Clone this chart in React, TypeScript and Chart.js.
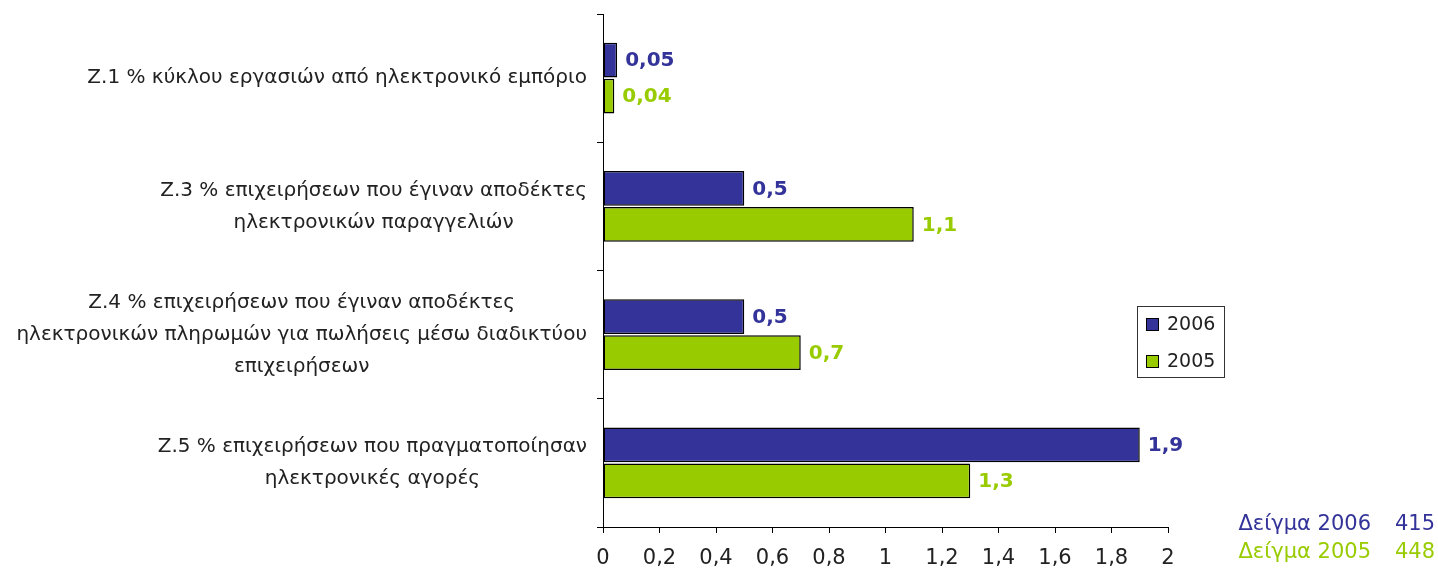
import React, { useEffect, useRef } from "react";
import { Chart, registerables } from "chart.js";

Chart.register(...registerables);

const categories: string[][] = [
  ["Z.1 % κύκλου εργασιών από ηλεκτρονικό εμπόριο"],
  ["Z.3 % επιχειρήσεων που έγιναν αποδέκτες", "ηλεκτρονικών παραγγελιών"],
  [
    "Z.4 % επιχειρήσεων που έγιναν αποδέκτες",
    "ηλεκτρονικών πληρωμών για πωλήσεις μέσω διαδικτύου",
    "επιχειρήσεων",
  ],
  ["Z.5 % επιχειρήσεων που πραγματοποίησαν", "ηλεκτρονικές αγορές"],
];
const seriesNames = ["2006", "2005"];
const values2006 = [0.05, 0.5, 0.5, 1.9];
const values2005 = [0.04, 1.1, 0.7, 1.3];
const sampleLabels = ["Δείγμα 2006", "Δείγμα 2005"];
const sampleSizes = ["415", "448"];

const BLUE = "#333399";
const GREEN = "#99CC00";
const FONT = "'DejaVu Sans', Verdana, sans-serif";

const fmt = (v: number) => String(Number(v.toFixed(2))).replace(".", ",");

const drawPlugin = {
  id: "customDraw",
  afterDraw(chart: any) {
    const ctx = chart.ctx;
    const yScale = chart.scales.y;
    ctx.save();
    // category labels: block right aligned, lines centered
    ctx.font = `20px ${FONT}`;
    ctx.fillStyle = "#222";
    ctx.textBaseline = "middle";
    ctx.textAlign = "center";
    const lineH = 32;
    categories.forEach((lines, i) => {
      const yc = yScale.getPixelForValue(i);
      const maxW = Math.max(...lines.map((l) => ctx.measureText(l).width));
      const xc = 587 - maxW / 2;
      const y0 = yc - ((lines.length - 1) * lineH) / 2;
      lines.forEach((l, j) => ctx.fillText(l, xc, y0 + j * lineH));
    });
    // value labels
    ctx.font = `bold 20px ${FONT}`;
    ctx.textAlign = "left";
    chart.data.datasets.forEach((ds: any, di: number) => {
      const meta = chart.getDatasetMeta(di);
      ctx.fillStyle = ds.backgroundColor;
      meta.data.forEach((bar: any, i: number) => {
        ctx.fillText(fmt(ds.data[i]), bar.x + 8, bar.y + 1);
      });
    });
    // legend
    const lx = 1137, ly = 306, lw = 87, lh = 71;
    ctx.strokeStyle = "#333";
    ctx.lineWidth = 1;
    ctx.strokeRect(lx + 0.5, ly + 0.5, lw, lh);
    ctx.font = `19px ${FONT}`;
    chart.data.datasets.forEach((ds: any, di: number) => {
      const cy = ly + 18 + di * 37;
      ctx.fillStyle = ds.backgroundColor;
      ctx.fillRect(lx + 9, cy - 6, 12, 12);
      ctx.strokeStyle = "#000";
      ctx.strokeRect(lx + 9.5, cy - 5.5, 12, 12);
      ctx.fillStyle = "#222";
      ctx.fillText(ds.label, lx + 30, cy + 1);
    });
    ctx.restore();
  },
};

export default function App() {
  const ref = useRef<HTMLCanvasElement>(null);
  useEffect(() => {
    if (!ref.current) return;
    const chart = new Chart(ref.current, {
      type: "bar",
      data: {
        labels: categories.map((c) => c.join(" ")),
        datasets: [
          {
            label: seriesNames[0],
            data: values2006,
            backgroundColor: BLUE,
            borderColor: "#000",
            borderWidth: 1.5,
            borderSkipped: false,
            categoryPercentage: 0.56,
            barPercentage: 0.97,
          },
          {
            label: seriesNames[1],
            data: values2005,
            backgroundColor: GREEN,
            borderColor: "#000",
            borderWidth: 1.5,
            borderSkipped: false,
            categoryPercentage: 0.56,
            barPercentage: 0.97,
          },
        ],
      },
      options: {
        indexAxis: "y",
        responsive: true,
        maintainAspectRatio: false,
        animation: false,
        layout: { padding: { top: 14, right: 270, left: 0, bottom: 0 } },
        plugins: {
          legend: { display: false },
          tooltip: { enabled: false },
        },
        scales: {
          x: {
            min: 0,
            max: 2,
            ticks: {
              stepSize: 0.2,
              color: "#222",
              padding: 13,
              font: { family: FONT, size: 21 },
              callback: (v: any) => fmt(Number(v)),
            },
            grid: {
              drawOnChartArea: false,
              drawTicks: true,
              tickLength: 6,
              color: "#000",
            },
            border: { display: true, color: "#000", width: 1 },
            afterFit: (s: any) => {
              s.height = 49;
            },
          },
          y: {
            ticks: { display: false },
            grid: {
              offset: true,
              drawOnChartArea: false,
              drawTicks: true,
              tickLength: 6,
              color: "#000",
            },
            border: { display: true, color: "#000", width: 1 },
            afterFit: (s: any) => {
              s.width = 603;
            },
          },
        },
      },
      plugins: [drawPlugin],
    } as any);
    return () => chart.destroy();
  }, []);

  return (
    <div
      style={{
        position: "absolute",
        left: 0,
        top: 0,
        width: 1438,
        height: 576,
        background: "#fff",
        fontFamily: FONT,
      }}
    >
      <canvas ref={ref} />
      {sampleLabels.map((l, i) => (
        <div
          key={l}
          style={{
            position: "absolute",
            right: 3,
            top: 510 + i * 28,
            fontSize: 21,
            lineHeight: "26px",
            color: i === 0 ? BLUE : GREEN,
            whiteSpace: "pre",
          }}
        >
          {l}
          <span style={{ display: "inline-block", width: 64, textAlign: "right" }}>
            {sampleSizes[i]}
          </span>
        </div>
      ))}
    </div>
  );
}
